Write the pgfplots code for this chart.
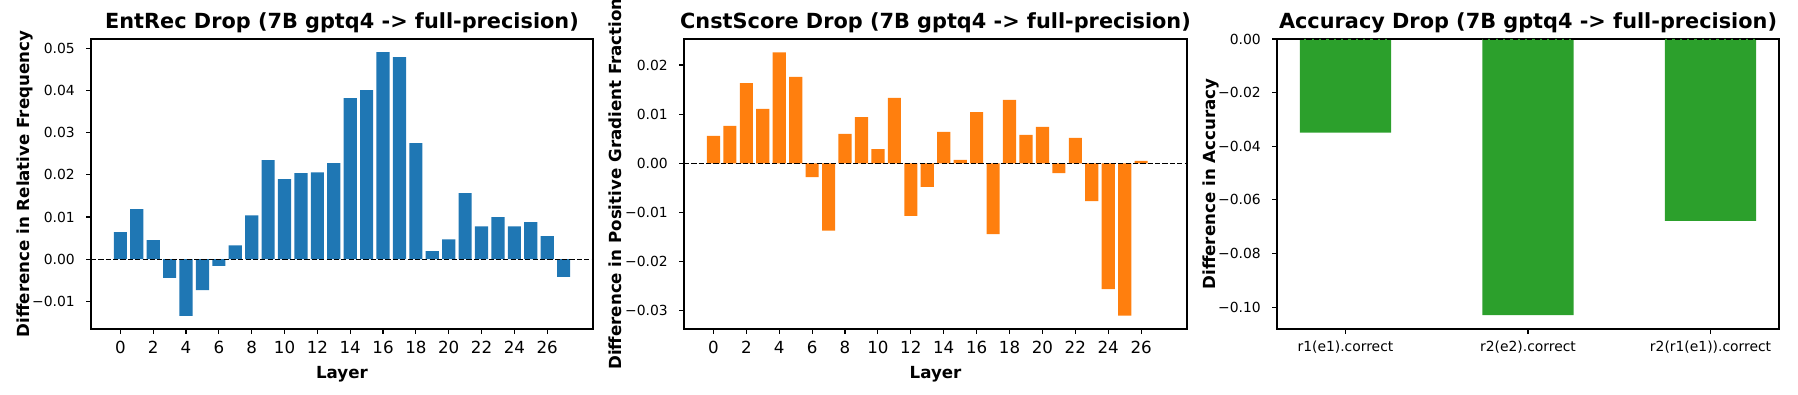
\documentclass[border=0pt]{standalone}
\usepackage{fontspec}
\setmainfont{DejaVu Sans}
\usepackage{pgfplots}
\pgfplotsset{compat=1.18}
\definecolor{tabblue}{RGB}{31,119,180}
\definecolor{taborange}{RGB}{255,127,14}
\definecolor{tabgreen}{RGB}{44,160,44}

% shared look of the three panels (1px of the reference = 0.72pt)
\pgfplotsset{
  drop/.style={
    scale only axis, height=208.8pt, anchor=south west,
    axis line style={line width=0.8pt},
    tick align=outside, tick pos=left,
    major tick length=3.5pt,
    every tick/.style={black, line width=0.8pt},
    scaled y ticks=false,
    every axis title shift=0pt,
    title style={at={(0.5,1)}, anchor=base, yshift=7.2pt, inner sep=0pt,
      font=\bfseries\fontsize{15}{17}\selectfont},
    xlabel style={at={(axis description cs:0.5,0)}, anchor=base, yshift=-35.4pt,
      inner sep=0pt, font=\bfseries\fontsize{12}{14}\selectfont},
    ylabel style={at={(axis description cs:-0.1234,0.5)}, anchor=base,
      inner sep=0pt, font=\bfseries\fontsize{12}{14}\selectfont},
    yticklabel style={font=\fontsize{10}{12}\selectfont, anchor=east, inner sep=0pt, xshift=-8pt},
    xticklabel style={anchor=north, inner sep=0pt, yshift=-5.2pt},
  },
  zero/.style={black, line width=1pt, dash pattern=on 3.7pt off 1.6pt, forget plot},
}

\begin{document}
\begin{tikzpicture}

% EntRec
\begin{axis}[drop,
  at={(65.52pt,46.8pt)}, width=361.44pt,
  title={EntRec Drop (7B gptq4 -> full-precision)},
  xlabel={Layer}, ylabel={Difference in Relative Frequency},
  xmin=-1.79, xmax=28.79, ymin=-0.01654, ymax=0.05221,
  xtick={0,2,4,6,8,10,12,14,16,18,20,22,24,26},
  xticklabels={0,2,4,6,8,10,12,14,16,18,20,22,24,26},
  xticklabel style={font=\fontsize{12}{14}\selectfont},
  ytick={-0.01,0,0.01,0.02,0.03,0.04,0.05},
  yticklabels={−0.01,0.00,0.01,0.02,0.03,0.04,0.05},
]
\addplot[ybar, bar width=0.8, bar shift=0pt, fill=tabblue, draw=none] coordinates {
  (0,0.0064) (1,0.0119) (2,0.0045) (3,-0.0044) (4,-0.0134) (5,-0.0073) (6,-0.0016)
  (7,0.0033) (8,0.0104) (9,0.0235) (10,0.0190) (11,0.0204) (12,0.0206) (13,0.0228)
  (14,0.0382) (15,0.0401) (16,0.0491) (17,0.0479) (18,0.0275) (19,0.0019) (20,0.0047)
  (21,0.0157) (22,0.0078) (23,0.0100) (24,0.0078) (25,0.0088) (26,0.0055) (27,-0.0042)};
\addplot[zero] coordinates {(-1.79,0) (28.79,0)};
\end{axis}

% CnstScore
\begin{axis}[drop,
  at={(492.48pt,46.8pt)}, width=362.16pt,
  title={CnstScore Drop (7B gptq4 -> full-precision)},
  xlabel={Layer}, ylabel={Difference in Positive Gradient Fraction},
  xmin=-1.79, xmax=28.79, ymin=-0.0337, ymax=0.0253,
  xtick={0,2,4,6,8,10,12,14,16,18,20,22,24,26},
  xticklabels={0,2,4,6,8,10,12,14,16,18,20,22,24,26},
  xticklabel style={font=\fontsize{12}{14}\selectfont},
  ytick={-0.03,-0.02,-0.01,0,0.01,0.02},
  yticklabels={−0.03,−0.02,−0.01,0.00,0.01,0.02},
]
\addplot[ybar, bar width=0.8, bar shift=0pt, fill=taborange, draw=none] coordinates {
  (0,0.0056) (1,0.0076) (2,0.0163) (3,0.0111) (4,0.0226) (5,0.0176) (6,-0.0028)
  (7,-0.0137) (8,0.0060) (9,0.0094) (10,0.0029) (11,0.0133) (12,-0.0107) (13,-0.0048)
  (14,0.0064) (15,0.0007) (16,0.0104) (17,-0.0144) (18,0.0129) (19,0.0058) (20,0.0074)
  (21,-0.0020) (22,0.0052) (23,-0.0077) (24,-0.0256) (25,-0.0310) (26,0.0005)};
\addplot[zero] coordinates {(-1.79,0) (28.79,0)};
\end{axis}

% Accuracy
\begin{axis}[drop,
  at={(919.44pt,46.8pt)}, width=361.44pt,
  title={Accuracy Drop (7B gptq4 -> full-precision)},
  ylabel={Difference in Accuracy},
  xmin=-0.375, xmax=2.375, ymin=-0.10815, ymax=0,
  xtick={0,1,2},
  xticklabels={r1(e1).correct,r2(e2).correct,r2(r1(e1)).correct},
  xticklabel style={font=\fontsize{10}{12}\selectfont},
  ytick={-0.1,-0.08,-0.06,-0.04,-0.02,0},
  yticklabels={−0.10,−0.08,−0.06,−0.04,−0.02,0.00},
]
\addplot[ybar, bar width=0.5, bar shift=0pt, fill=tabgreen, draw=none] coordinates {
  (0,-0.0349) (1,-0.1030) (2,-0.0678)};
\addplot[zero] coordinates {(-0.375,0) (2.375,0)};
\end{axis}

\pgfresetboundingbox
\path[use as bounding box] (0,0) rectangle (1294.56pt,283.68pt);
\end{tikzpicture}
\end{document}
